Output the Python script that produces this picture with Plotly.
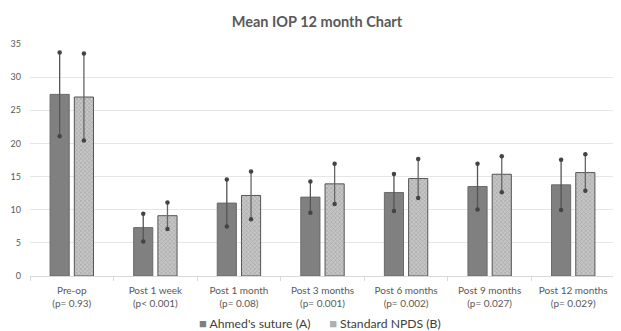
import plotly.graph_objects as go

categories = ["Pre-op<br>(p= 0.93)", "Post 1 week<br>(p< 0.001)", "Post 1 month<br>(p= 0.08)",
              "Post 3 months<br>(p= 0.001)", "Post 6 months<br>(p= 0.002)",
              "Post 9 months<br>(p= 0.027)", "Post 12 months<br>(p= 0.029)"]
mean_a = [27.4, 7.3, 11.0, 11.9, 12.6, 13.5, 13.75]
sd_a = [6.3, 2.1, 3.55, 2.35, 2.8, 3.45, 3.8]
mean_b = [27.0, 9.1, 12.15, 13.9, 14.7, 15.35, 15.6]
sd_b = [6.55, 2.0, 3.6, 3.05, 2.95, 2.7, 2.75]
name_a = "Ahmed's suture (A)"
name_b = "Standard NPDS (B)"
y_ticks = [0, 5, 10, 15, 20, 25, 30, 35]

FONT = "Lato"
TXT = "#595959"
bargap = 0.42
bargroupgap = 0.21
d = (1 - bargap) / 4
xs = list(range(len(categories)))

fig = go.Figure()
fig.add_trace(go.Bar(
    x=xs, y=mean_a, name=name_a, showlegend=False,
    marker=dict(color="#808080", line=dict(color="#6a6a6a", width=1)),
    error_y=dict(type="data", array=sd_a, visible=True, color="#555555", thickness=1.3, width=0),
))
fig.add_trace(go.Bar(
    x=xs, y=mean_b, name=name_b, showlegend=False,
    marker=dict(color="#b5b5b5", line=dict(color="#555555", width=1),
                pattern=dict(shape="x", fgcolor="#8a8a8a", bgcolor="#c6c6c6", size=3, solidity=0.4)),
    error_y=dict(type="data", array=sd_b, visible=True, color="#666666", thickness=1.3, width=0),
))
# dots at error-bar ends
for means, sds, sgn in [(mean_a, sd_a, -1), (mean_b, sd_b, 1)]:
    ex, ey = [], []
    for i, (m, s) in enumerate(zip(means, sds)):
        ex += [i + sgn * d, i + sgn * d]
        ey += [m + s, m - s]
    fig.add_trace(go.Scatter(x=ex, y=ey, mode="markers", showlegend=False, hoverinfo="skip",
                             marker=dict(color="#444444", size=4.5)))

# custom legend (squares + text)
legend_text = (f'<span style="color:#7f7f7f;font-size:13px">■</span> {name_a}'
               f'&nbsp;&nbsp;&nbsp;&nbsp;&nbsp;&nbsp;<span style="color:#b0b0b0;font-size:13px">■</span> {name_b}')
fig.add_annotation(text=legend_text, xref="paper", yref="paper", x=0.496, y=-0.203,
                   xanchor="center", yanchor="middle", showarrow=False,
                   font=dict(family=FONT, size=12.2, color="#404040"))

# page body has an 8px default margin; figure is sized to fit the 621x331 window
fig.update_layout(
    width=613, height=323,
    margin=dict(l=22, r=6, t=36, b=55, autoexpand=False),
    paper_bgcolor="white", plot_bgcolor="white",
    barmode="group", bargap=bargap, bargroupgap=bargroupgap,
    font=dict(family=FONT, color=TXT),
    showlegend=False,
    title=dict(text="<b>Mean IOP 12 month Chart</b>", x=0.504, xanchor="center", y=0.957, yanchor="middle",
               font=dict(family=FONT, size=14.5, color=TXT)),
)
fig.update_xaxes(
    tickmode="array", tickvals=xs, ticktext=categories, range=[-0.5, len(categories) - 0.5],
    showgrid=False, showline=True, linecolor="#d9d9d9", linewidth=1, ticks="",
    tickfont=dict(family=FONT, size=10, color=TXT), zeroline=False, automargin=False,
    ticklabelstandoff=5,
    minor=dict(tickvals=[i - 0.5 for i in range(len(categories) + 1)], ticks="outside",
               ticklen=4, tickcolor="#d9d9d9", showgrid=False),
)
fig.update_yaxes(
    range=[0, 35], tickvals=y_ticks, showgrid=True, gridcolor="#e6e6e6", gridwidth=1,
    zeroline=False, showline=False, tickfont=dict(family=FONT, size=9, color=TXT), ticks="",
    ticklabelstandoff=8, automargin=False,
)
fig.write_html("out.html")
